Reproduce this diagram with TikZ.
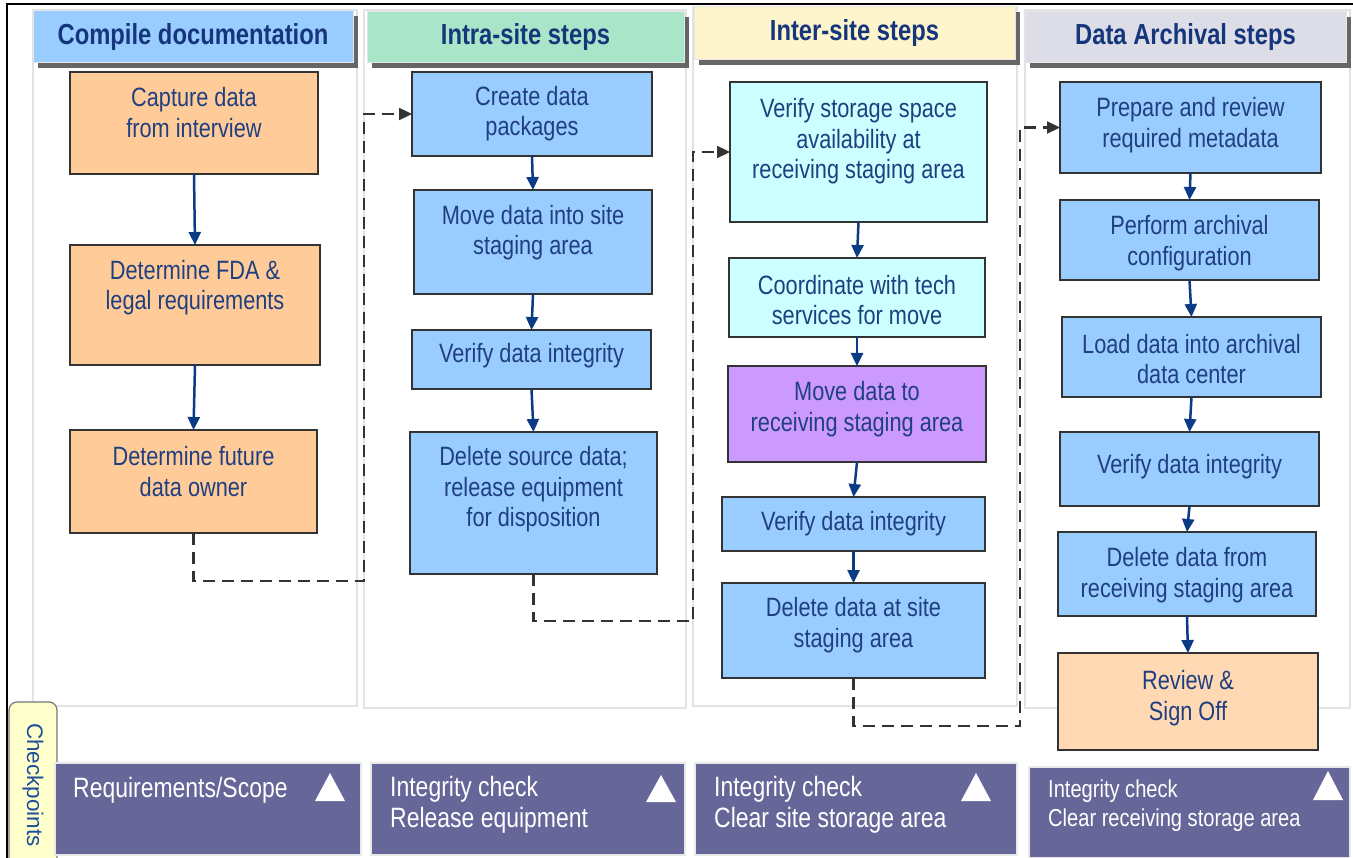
\documentclass[tikz,border=0pt]{standalone}
\usepackage{fontspec}
\setmainfont{Liberation Sans}[FakeStretch=0.82]
\newfontfamily\plainfont{Liberation Sans}
\usetikzlibrary{arrows.meta}
\definecolor{txtblue}{HTML}{1F3F80}
\definecolor{hdrblue}{HTML}{15367A}
\definecolor{arrowblue}{HTML}{0B3B85}
\definecolor{boxline}{HTML}{333333}
\definecolor{dashgray}{HTML}{333333}
\definecolor{colgray}{HTML}{E3E3E3}
\definecolor{shadowgray}{HTML}{666666}
\definecolor{hdrline}{HTML}{E6E6E6}
\definecolor{orangef}{HTML}{FFCC99}
\definecolor{bluef}{HTML}{99CCFF}
\definecolor{cyanf}{HTML}{CCFFFF}
\definecolor{purplef}{HTML}{CC99FF}
\definecolor{peachf}{HTML}{FFD9B3}
\definecolor{h1f}{HTML}{99CCFF}
\definecolor{h2f}{HTML}{A9E5C9}
\definecolor{h3f}{HTML}{FFF5CC}
\definecolor{h4f}{HTML}{DDDDE8}
\definecolor{cpfill}{HTML}{666699}
\definecolor{cpline}{HTML}{E8E8E8}
\definecolor{tabfill}{HTML}{FFFFCC}
\definecolor{tabline}{HTML}{777777}
\definecolor{tabtext}{HTML}{1F4E9A}
\newcommand\procbox[8]{%
  \node[pbox, fill=#6, minimum width={#4-#2}, minimum height={#5-#3}] (#1) at ({(#2+#4)/2},{(#3+#5)/2}) {};
  \node[ptext] (#1-t) at ({(#2+#4)/2},#7) {#8};
}
\newcommand\hdrbox[7]{%
  \fill[shadowgray] (#2+5,#3+5) rectangle (#4+5,#5+5);
  \node[hdr, fill=#6, minimum width={#4-#2}, minimum height={#5-#3}] (#1) at ({(#2+#4)/2},{(#3+#5)/2}) {#7};
}
\begin{document}
\begin{tikzpicture}[x=1pt,y=-1pt,
  pbox/.style={draw=boxline, line width=2.5pt, inner sep=0pt, outer sep=0pt},
  ptext/.style={text=txtblue, align=center, inner sep=0pt, font=\fontsize{26.5}{30.5}\selectfont},
  hdr/.style={draw=hdrline, line width=1pt, inner sep=0pt, outer sep=0pt, text=hdrblue, font=\bfseries\fontsize{29}{33}\selectfont},
  flow/.style={draw=arrowblue, line width=2.5pt, -{Triangle[length=13pt,width=12pt]}},
  jump/.style={draw=dashgray, line width=2.3pt, dash pattern=on 12pt off 7pt, -{Triangle[length=13pt,width=12pt]}},
  colbox/.style={draw=colgray, line width=1.5pt},
  cpbox/.style={fill=cpfill, draw=cpline, line width=2pt, inner sep=0pt, outer sep=0pt},
  cptext/.style={text=white, align=left, anchor=west, inner sep=0pt, font=\fontsize{28}{31}\selectfont},
  cptri/.style={fill=white}
]
\useasboundingbox (0,0) rectangle (1353,858);
\fill[white] (0,0) rectangle (1353,858);
% column frames
\draw[colbox] (33,10) rectangle (357,706);
\draw[colbox] (364,10) rectangle (686,708);
\draw[colbox] (693,7) rectangle (1017,706);
\draw[colbox] (1025,10) rectangle (1350,708);
% headers
\hdrbox{h1}{33}{11}{353}{63}{h1f}{Compile documentation}
\hdrbox{h2}{367}{12}{684}{63}{h2f}{Intra-site steps}
\hdrbox{h3}{694}{7}{1015}{60}{h3f}{Inter-site steps}
\hdrbox{h4}{1025}{12}{1346}{63}{h4f}{Data Archival steps}
% process boxes
\procbox{cap}{70}{72}{318}{174}{orangef}{112.5}{Capture data\\from interview}
\procbox{fda}{70}{245}{320}{365}{orangef}{287.5}{Determine FDA \&\\legal requirements}
\procbox{fut}{70}{430}{317}{533}{orangef}{471.5}{Determine future\\data owner}
\procbox{pkg}{412}{72}{652}{156}{bluef}{113.5}{Create data\\packages}
\procbox{mvs}{414}{190}{652}{294}{bluef}{232.5}{Move data into site\\staging area}
\procbox{vi1}{412}{330}{651}{389}{bluef}{356}{Verify data integrity}
\procbox{del}{410}{432}{657}{574}{bluef}{489.5}{Delete source data;\\release equipment\\for disposition}
\procbox{vss}{730}{82}{987}{222}{cyanf}{141.5}{Verify storage space\\availability at\\receiving staging area}
\procbox{crd}{729}{258}{985}{337}{cyanf}{300}{Coordinate with tech\\services for move}
\procbox{mvr}{728}{366}{986}{462}{purplef}{409}{Move data to\\receiving staging area}
\procbox{vi2}{722}{497}{985}{551}{bluef}{524}{Verify data integrity}
\procbox{dss}{722}{583}{985}{678}{bluef}{625}{Delete data at site\\staging area}
\procbox{pre}{1060}{82}{1321}{173}{bluef}{125}{Prepare and review\\required metadata}
\procbox{cfg}{1060}{200}{1319}{280}{bluef}{243}{Perform archival\\configuration}
\procbox{lod}{1062}{317}{1321}{397}{bluef}{359}{Load data into archival\\data center}
\procbox{vi3}{1060}{432}{1319}{506}{bluef}{467}{Verify data integrity}
\procbox{drs}{1058}{532}{1316}{616}{bluef}{575}{Delete data from\\receiving staging area}
\procbox{rev}{1058}{653}{1318}{750}{peachf}{698}{Review \&\\Sign Off}
% flow arrows
\draw[flow] (cap.south) -- (fda.north);
\draw[flow] (fda.south) -- (fut.north);
\draw[flow] (pkg.south) -- (mvs.north);
\draw[flow] (mvs.south) -- (vi1.north);
\draw[flow] (vi1.south) -- (del.north);
\draw[flow] (vss.south) -- (crd.north);
\draw[flow] (crd.south) -- (mvr.north);
\draw[flow] (mvr.south) -- (vi2.north);
\draw[flow] (vi2.south) -- (dss.north);
\draw[flow] (pre.south) -- (cfg.north);
\draw[flow] (cfg.south) -- (lod.north);
\draw[flow] (lod.south) -- (vi3.north);
\draw[flow] (vi3.south) -- (drs.north);
\draw[flow] (drs.south) -- (rev.north);
% dashed hand-offs
\coordinate (k1) at (364,581);
\coordinate (k2) at (693,621);
\coordinate (k3) at (1020,726);
\draw[jump] (fut.south) |- (k1) |- (pkg.west);
\draw[jump] (del.south) |- (k2) |- (vss.west);
\draw[jump] (dss.south) |- (k3) |- (pre.west);
% checkpoints tab
\draw[fill=tabfill, draw=tabline, line width=1.2pt, rounded corners=8pt] (9,860) -- (9,702) -- (57,702) -- (57,860);
\node[rotate=-90, text=tabtext, inner sep=0pt, font=\plainfont\fontsize{22.5}{26}\selectfont] (tab) at (33,785) {Checkpoints};
% checkpoint boxes
\node[cpbox, minimum width=306pt, minimum height=92pt] (cp1) at (208,809) {};
\node[cpbox, minimum width=314pt, minimum height=92pt] (cp2) at (528,809) {};
\node[cpbox, minimum width=322pt, minimum height=92pt] (cp3) at (856,809) {};
\node[cpbox, minimum width=321pt, minimum height=91pt] (cp4) at (1189.5,812.5) {};
\node[cptext] (cp1-t) at (73,790) {Requirements/Scope};
\node[cptext] (cp2-t) at (390,805) {Integrity check\\Release equipment};
\node[cptext] (cp3-t) at (714,805) {Integrity check\\Clear site storage area};
\node[cptext, font=\fontsize{24.5}{29}\selectfont] (cp4-t) at (1048,806) {Integrity check\\Clear receiving storage area};
\fill[cptri] (330,773) -- (345,801) -- (315,801) -- cycle;
\fill[cptri] (661,775) -- (676,802) -- (646,802) -- cycle;
\fill[cptri] (976,773) -- (991,801) -- (961,801) -- cycle;
\fill[cptri] (1328,771) -- (1343,800) -- (1313,800) -- cycle;
% outer frame
\draw[black, line width=1.5pt] (1353,4) -- (7,4) -- (7,858);
\end{tikzpicture}
\end{document}
